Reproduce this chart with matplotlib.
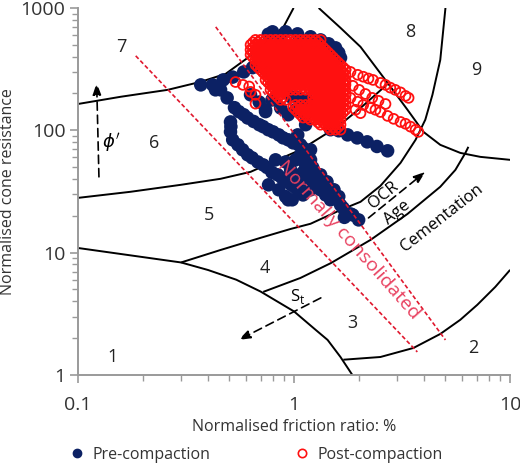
import matplotlib
matplotlib.use('Agg')
import matplotlib.pyplot as plt
from matplotlib.lines import Line2D
from matplotlib.ticker import NullFormatter

plt.rcParams['font.family'] = ['Open Sans', 'DejaVu Sans']

# --- soil behaviour type boundaries (normalised friction ratio %, normalised cone resistance)
b1_fr = [0.1, 0.3]
b1_qt = [10.9, 8.3]
b13_fr = [0.3, 0.40, 0.54, 0.70, 1.0, 1.26, 1.43, 1.64, 1.86]
b13_qt = [8.3, 7.2, 6.0, 4.8, 3.3, 2.33, 1.93, 1.40, 1.0]
b2_fr = [1.69, 2.51, 3.57, 4.75, 5.88, 7.05, 8.54, 10]
b2_qt = [1.33, 1.40, 1.66, 2.16, 2.82, 3.74, 5.24, 7.22]
b34_fr = [0.72, 1.07, 1.48, 2.26, 3.35, 4.75, 5.58, 6.21, 6.41]
b34_qt = [4.77, 6.2, 8.2, 12.7, 20.7, 34.5, 47.4, 65.3, 73.2]
b45_fr = [0.30, 0.457, 0.70, 0.964, 1.192, 1.641, 2.03, 2.51, 3.11, 3.65, 4.05, 4.37, 4.75, 5.02]
b45_qt = [8.3, 10.5, 13.2, 15.6, 17.2, 22.3, 26.0, 35.1, 54.1, 83.5, 122, 195, 376, 1000]
b56_fr = [0.1, 0.175, 0.299, 0.457, 0.629, 0.839, 1.072, 1.59, 2.03, 2.71]
b56_qt = [28.0, 31.4, 35.8, 40.1, 45.7, 57.3, 69.2, 107, 152, 239]
b67_fr = [0.1, 0.158, 0.260, 0.370, 0.482, 0.610, 0.738, 0.894, 0.995]
b67_qt = [164, 188, 214, 249, 289, 391, 528, 700, 1000]
b89_fr = [1.30, 1.641, 2.03, 2.71, 3.35, 3.97, 4.75, 5.88, 7.28, 10]
b89_qt = [1000, 687, 481, 244, 147, 97, 76, 65.3, 60.6, 57.3]

# normally consolidated band
nc_low_fr = [0.185, 3.72]
nc_low_qt = [406, 1.54]
nc_up_fr = [0.434, 5.02]
nc_up_qt = [700, 1.93]

zone_names = ['1', '2', '3', '4', '5', '6', '7', '8', '9']
zone_fr = [0.145, 6.76, 1.86, 0.731, 0.403, 0.224, 0.158, 3.46, 6.98]
zone_qt = [1.40, 1.66, 2.66, 7.50, 20.3, 78.9, 481, 638, 312]

# --- pre-compaction CPT points
pre_fr = [0.795, 0.914, 1.038, 1.192, 1.327, 1.445, 1.556, 1.61, 1.641, 0.867, 1.072, 1.258, 0.76,
          0.370, 0.42, 0.433, 0.47, 0.52, 0.585, 0.642, 0.70, 0.738,
          0.457, 0.49, 0.53, 0.585, 0.65, 0.72, 0.80, 0.89, 0.99, 1.10,
          0.555, 0.61, 0.69, 0.76, 0.85, 0.94, 1.05,
          0.508, 0.508, 0.52, 0.51,
          0.55, 0.61, 0.68, 0.75, 0.84, 0.93, 1.016, 1.10,
          0.578, 0.64, 0.72, 0.79, 0.88, 0.97, 1.06,
          0.79, 0.867, 0.94, 0.738, 0.629, 0.69, 0.738,
          0.821, 0.914, 1.016, 1.131, 0.964, 1.072, 1.192, 0.762, 0.85, 0.914, 0.98,
          1.016, 1.131, 1.131, 1.04, 1.072, 1.192, 1.131, 1.22, 1.327, 1.42, 1.53, 1.61,
          1.641, 1.30, 1.40, 1.73, 1.87, 1.99, 1.71, 1.192, 1.072,
          1.131, 1.258, 1.327, 1.475, 1.192, 1.072, 0.94,
          1.10, 1.22, 1.36, 1.52, 1.685, 1.825, 1.04,
          1.475, 1.61, 1.77, 1.96, 2.18, 2.42, 2.71,
          0.964, 1.04, 1.15]
pre_qt = [638, 638, 614, 581, 548, 509, 472, 430, 391, 570, 548, 509, 610,
          235, 235, 214, 258, 272, 300, 325, 335, 312,
          214, 184, 153, 134, 118, 107, 97, 86.7, 78.9, 71.8,
          142, 126, 111, 101, 91.7, 83.5, 76,
          117, 97, 83.5, 107,
          76, 63, 55, 49.6, 43.2, 37.9, 33.9, 29.6,
          69.2, 59.5, 52.1, 45.3, 40.7, 35.8, 31.9,
          177, 152, 134, 142, 195, 170, 147,
          57.3, 55, 57.3, 52.1, 47.4, 43.2, 39.3, 35.8, 32.6, 28.7, 27,
          147, 134, 111, 91.7, 76, 69.2, 59.5, 49.6, 43.2, 37.9, 32.6, 28.7,
          24.5, 35.8, 29.6, 21.4, 20.3, 18.5, 19.4, 57.3, 62.9,
          47.4, 40.7, 32.6, 27.0, 32.6, 35.8, 27.0,
          45.3, 39.3, 32.6, 28.0, 23.2, 20.7, 40.7,
          101, 99, 91.7, 86.6, 80.4, 73.7, 67.9,
          188, 184, 177]

# --- post-compaction CPT points: dense core read row by row, then the trailing traces
post_row_qt = [548, 523, 499, 476, 454, 433, 414, 394, 376, 359, 343, 327, 312, 297, 284, 271,
               258, 246, 235, 224, 214, 204, 195, 186, 177, 169, 161, 154, 147, 140, 134, 127,
               122, 116, 111, 106, 101]
post_row_fr = [
    [0.663, 0.700, 0.738, 0.778, 0.821, 0.867, 0.914, 0.964, 1.016, 1.072, 1.131, 1.192, 1.258, 1.327],
    [0.646, 0.681, 0.719, 0.758, 0.799, 0.843, 0.890, 0.939, 0.990, 1.044, 1.101, 1.161, 1.225, 1.292],
    [0.629, 0.663, 0.700, 0.738, 0.778, 0.821, 0.867, 0.914, 0.964, 1.016, 1.072, 1.131, 1.192, 1.258, 1.327],
    [0.646, 0.681, 0.719, 0.758, 0.799, 0.843, 0.890, 0.939, 0.990, 1.044, 1.101, 1.161, 1.225, 1.292, 1.363],
    [0.629, 0.663, 0.700, 0.738, 0.778, 0.821, 0.867, 0.914, 0.964, 1.016, 1.072, 1.131, 1.192, 1.258, 1.327, 1.40],
    [0.646, 0.681, 0.719, 0.758, 0.799, 0.843, 0.890, 0.939, 0.990, 1.044, 1.101, 1.161, 1.225, 1.292, 1.363, 1.437],
    [0.629, 0.663, 0.700, 0.738, 0.778, 0.821, 0.867, 0.914, 0.964, 1.016, 1.072, 1.131, 1.192, 1.258, 1.327, 1.40, 1.475],
    [0.646, 0.681, 0.719, 0.758, 0.799, 0.843, 0.890, 0.939, 0.990, 1.044, 1.101, 1.161, 1.225, 1.292, 1.363, 1.437, 1.516],
    [0.663, 0.700, 0.738, 0.778, 0.821, 0.867, 0.914, 0.964, 1.016, 1.072, 1.131, 1.192, 1.258, 1.327, 1.40, 1.475, 1.556],
    [0.681, 0.719, 0.758, 0.799, 0.843, 0.890, 0.939, 0.990, 1.044, 1.101, 1.161, 1.225, 1.292, 1.363, 1.437, 1.516, 1.598],
    [0.663, 0.700, 0.738, 0.778, 0.821, 0.867, 0.914, 0.964, 1.016, 1.072, 1.131, 1.192, 1.258, 1.327, 1.40, 1.475, 1.556, 1.641],
    [0.681, 0.719, 0.758, 0.799, 0.843, 0.890, 0.939, 0.990, 1.044, 1.101, 1.161, 1.225, 1.292, 1.363, 1.437, 1.516, 1.598, 1.685],
    [0.700, 0.738, 0.778, 0.821, 0.867, 0.914, 0.964, 1.016, 1.072, 1.131, 1.192, 1.258, 1.327, 1.40, 1.475, 1.556, 1.641, 1.73],
    [0.719, 0.758, 0.799, 0.843, 0.890, 0.939, 0.990, 1.044, 1.101, 1.161, 1.225, 1.292, 1.363, 1.437, 1.516, 1.598, 1.685],
    [0.738, 0.778, 0.821, 0.867, 0.914, 0.964, 1.016, 1.072, 1.131, 1.192, 1.258, 1.327, 1.40, 1.475, 1.556, 1.641, 1.73],
    [0.758, 0.799, 0.843, 0.890, 0.939, 0.990, 1.044, 1.101, 1.161, 1.225, 1.292, 1.363, 1.437, 1.516, 1.598, 1.685],
    [0.738, 0.778, 0.821, 0.867, 0.914, 0.964, 1.016, 1.072, 1.131, 1.192, 1.258, 1.327, 1.40, 1.475, 1.556, 1.641, 1.73],
    [0.758, 0.799, 0.843, 0.890, 0.939, 0.990, 1.044, 1.101, 1.161, 1.225, 1.292, 1.363, 1.437, 1.516, 1.598, 1.685],
    [0.778, 0.821, 0.867, 0.914, 0.964, 1.016, 1.072, 1.131, 1.192, 1.258, 1.327, 1.40, 1.475, 1.556, 1.641, 1.73],
    [0.799, 0.843, 0.890, 0.939, 0.990, 1.044, 1.101, 1.161, 1.225, 1.292, 1.363, 1.437, 1.516, 1.598, 1.685],
    [0.778, 0.821, 0.867, 0.914, 0.964, 1.016, 1.072, 1.131, 1.192, 1.258, 1.327, 1.40, 1.475, 1.556, 1.641, 1.73],
    [0.799, 0.843, 0.890, 1.225, 1.292, 1.363, 1.437, 1.516, 1.598, 1.685],
    [0.821, 0.867, 1.258, 1.327, 1.40, 1.475, 1.556, 1.641, 1.73],
    [0.843, 0.890, 1.225, 1.292, 1.363, 1.437, 1.516, 1.598, 1.685],
    [0.867, 0.914, 1.258, 1.327, 1.40, 1.475, 1.556, 1.641, 1.73],
    [1.225, 1.292, 1.363, 1.437, 1.516, 1.598, 1.685],
    [1.016, 1.072, 1.131, 1.192, 1.258, 1.327, 1.40, 1.475, 1.556, 1.641, 1.73],
    [0.990, 1.044, 1.101, 1.161, 1.225, 1.292, 1.363, 1.437, 1.516, 1.598, 1.685],
    [1.016, 1.072, 1.131, 1.192, 1.258, 1.327, 1.40, 1.475, 1.556, 1.641, 1.73],
    [1.044, 1.101, 1.161, 1.225, 1.292, 1.363, 1.437, 1.516, 1.598, 1.685],
    [1.072, 1.131, 1.192, 1.258, 1.327, 1.40, 1.475, 1.556, 1.641],
    [1.101, 1.161, 1.225, 1.292, 1.363, 1.437, 1.516, 1.598],
    [1.192, 1.258, 1.327, 1.40, 1.475, 1.556, 1.641],
    [1.292, 1.363, 1.437, 1.516, 1.598],
    [1.327, 1.40, 1.475, 1.556, 1.641],
    [1.437, 1.516, 1.598],
    [1.475, 1.556, 1.641],
]
post_tail_fr = [0.536, 0.58, 0.62, 0.629, 0.663, 0.663,
                1.73, 1.825, 1.97, 2.09, 2.21, 2.32, 2.51, 2.65, 2.79, 2.94, 3.11, 3.28, 3.39,
                1.73, 1.87, 2.0, 2.14, 2.30, 2.46, 2.65,
                1.73, 1.825, 1.97, 2.09, 2.26, 2.38, 2.51, 2.71, 2.89, 3.11, 3.28, 3.46, 3.65, 3.76,
                1.925, 2.03]
post_tail_qt = [248, 235, 228, 206, 195, 165,
                312, 300, 284, 274, 265, 258, 244, 235, 223, 214, 204, 191, 184,
                249, 231, 214, 198, 184, 174, 164,
                195, 184, 171, 161, 152, 147, 141, 131, 124, 117, 113, 107, 101, 97,
                147, 138]

navy = '#0c2164'
red = '#ff1010'
nc_red = '#e0182e'
nc_text = '#e8405f'

fig = plt.figure(figsize=(5.2, 4.68), dpi=100)
ax = fig.add_axes([0.15, 0.199, 0.831, 0.784])
ax.set_xscale('log')
ax.set_yscale('log')

for fr, qt in [(b1_fr, b1_qt), (b13_fr, b13_qt), (b2_fr, b2_qt), (b34_fr, b34_qt),
               (b45_fr, b45_qt), (b56_fr, b56_qt), (b67_fr, b67_qt), (b89_fr, b89_qt)]:
    ax.plot(fr, qt, color='black', lw=1.4, zorder=2, solid_capstyle='butt')

ax.scatter(pre_fr, pre_qt, s=95, color=navy, edgecolors='none', zorder=3)

post_fr = []
post_qt = []
for q, row in zip(post_row_qt, post_row_fr):
    post_fr += row
    post_qt += [q] * len(row)
post_fr += post_tail_fr
post_qt += post_tail_qt
ax.scatter(post_fr, post_qt, s=50, facecolors='none', edgecolors=red, linewidths=1.3, zorder=4)

ax.plot(nc_low_fr, nc_low_qt, color=nc_red, lw=1.2, ls=(0, (2.5, 1.5)), zorder=5)
ax.plot(nc_up_fr, nc_up_qt, color=nc_red, lw=1.2, ls=(0, (2.5, 1.5)), zorder=5)
ax.text(1.80, 12.7, 'Normally consolidated', color=nc_text, fontsize=14, rotation=-48.5,
        ha='center', va='center', rotation_mode='anchor', zorder=6)

for name, fr, qt in zip(zone_names, zone_fr, zone_qt):
    ax.text(fr, qt, name, fontsize=13, ha='center', va='center', color='#222222', zorder=6)


def dashed_arrow(tail, head):
    ax.annotate('', xy=head, xytext=tail, zorder=6,
                arrowprops=dict(arrowstyle='-|>,head_length=0.7,head_width=0.25', color='black',
                                lw=1.2, linestyle=(0, (5, 3)), shrinkA=0, shrinkB=0))


dashed_arrow((0.125, 41.6), (0.122, 244))
ax.text(0.142, 78.9, r"$\phi'$", fontsize=13, ha='center', va='center')
dashed_arrow((2.21, 19.2), (4.05, 45.7))
ax.text(2.59, 29.6, 'OCR', fontsize=12, rotation=39, ha='center', va='center', rotation_mode='anchor')
ax.text(3.01, 21.1, 'Age', fontsize=12, rotation=39, ha='center', va='center', rotation_mode='anchor')
ax.text(4.81, 19.2, 'Cementation', fontsize=12, rotation=38, ha='center', va='center', rotation_mode='anchor')
dashed_arrow((1.33, 4.26), (0.554, 1.93))
ax.text(1.04, 4.34, r'S$_\mathregular{t}$', fontsize=12, ha='center', va='center')

ax.set_xlim(0.1, 10)
ax.set_ylim(1, 1000)
ax.set_xticks([0.1, 1, 10], ['0.1', '1', '10'])
ax.set_yticks([1, 10, 100, 1000], ['1', '10', '100', '1000'])
ax.xaxis.set_minor_formatter(NullFormatter())
ax.yaxis.set_minor_formatter(NullFormatter())
for side in ['top', 'right']:
    ax.spines[side].set_visible(False)
for side in ['left', 'bottom']:
    ax.spines[side].set_color('#9a9a9a')
    ax.spines[side].set_linewidth(1.4)
ax.tick_params(which='major', length=6, width=1.2, color='#9a9a9a', labelsize=14, labelcolor='#333333')
ax.tick_params(axis='x', which='major', pad=9)
ax.tick_params(axis='y', which='major', pad=3)
ax.tick_params(which='minor', length=4, width=1.0, color='#9a9a9a')
ax.set_xlabel('Normalised friction ratio: %', fontsize=11.5, color='#333333', labelpad=4)
ax.set_ylabel('Normalised cone resistance', fontsize=11.5, color='#333333', labelpad=3)

handles = [Line2D([], [], ls='none', marker='o', ms=6, color=navy),
           Line2D([], [], ls='none', marker='o', ms=6, mfc='none', mec=red, mew=1.2)]
fig.legend(handles, ['Pre-compaction', 'Post-compaction'], loc='center left',
           bbox_to_anchor=(0.105, 0.028), ncol=2, frameon=False, fontsize=11.5,
           handlelength=1.0, handletextpad=0.5, columnspacing=5.2, labelcolor='#333333')

fig.savefig('out.png', dpi=100)
